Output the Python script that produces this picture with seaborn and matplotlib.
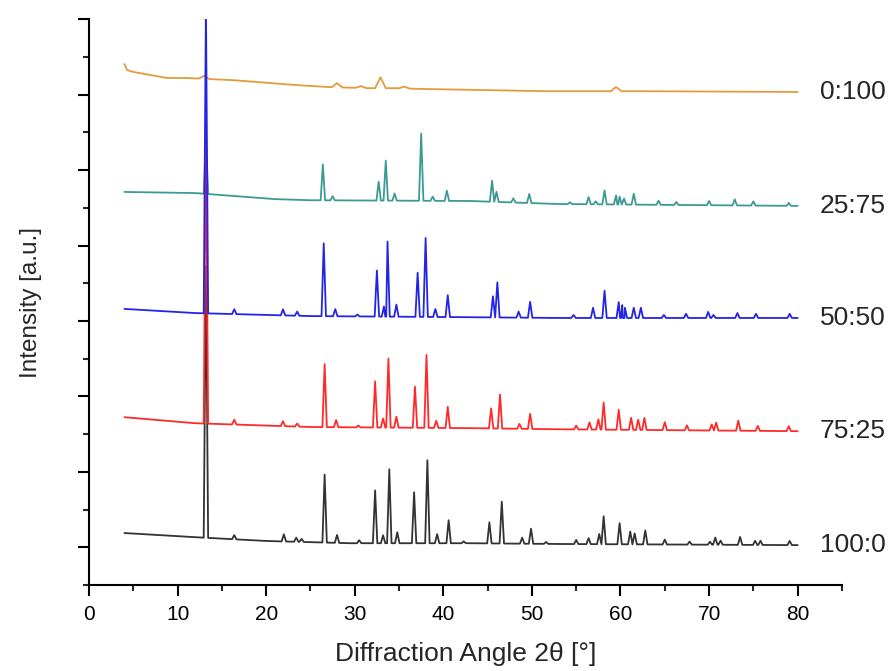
import numpy as np
import matplotlib
matplotlib.use("Agg")
import matplotlib.pyplot as plt
import seaborn as sns
from matplotlib.ticker import MultipleLocator, FixedLocator

# ---- data (y in stacked a.u., 1 unit = one y tick) ----
labels = ["0:100", "25:75", "50:50", "75:25", "100:0"]
colors = ["#E39B3C", "#3C9A94", "#2424E6", "#FF2A2A", "#333333"]

# 100:0
black_base_x = [4, 12, 20, 29.5, 43, 53, 80]
black_base_y = [1.38, 1.27, 1.17, 1.11, 1.11, 1.09, 1.06]
black_peak_x = [13.2, 16.4, 22.0, 23.4, 24.0, 26.6, 28.0, 30.5, 32.3, 33.2, 33.9, 34.8,
                36.7, 38.2, 39.3, 40.6, 42.3, 45.2, 46.6, 48.9, 49.9, 51.6, 55.0, 56.4,
                57.6, 58.1, 59.9, 61.1, 61.6, 62.8, 65.0, 67.8, 70.1, 70.7, 71.3, 73.5,
                75.2, 75.8, 79.1]
black_peak_h = [7.2, 0.11, 0.19, 0.11, 0.08, 1.80, 0.21, 0.08, 1.40, 0.21, 1.96, 0.29,
                1.35, 2.20, 0.24, 0.61, 0.05, 0.56, 1.11, 0.16, 0.40, 0.05, 0.11, 0.16,
                0.27, 0.74, 0.56, 0.34, 0.29, 0.37, 0.13, 0.08, 0.08, 0.19, 0.11, 0.21,
                0.11, 0.11, 0.11]

# 75:25
red_base_x = [4, 12, 25, 43, 53, 80]
red_base_y = [4.45, 4.29, 4.19, 4.16, 4.13, 4.08]
red_peak_x = [13.2, 16.4, 21.9, 23.5, 26.6, 27.9, 30.4, 32.3, 33.2, 33.8, 34.7, 36.8,
              38.1, 39.2, 40.5, 45.4, 46.4, 48.6, 49.8, 55.0, 56.5, 57.5, 58.1, 59.8,
              61.2, 62.0, 62.7, 65.0, 67.5, 70.3, 70.8, 73.3, 75.5, 79.0]
red_peak_h = [7.9, 0.13, 0.13, 0.08, 1.67, 0.19, 0.05, 1.22, 0.24, 1.83, 0.29, 1.09,
              1.93, 0.19, 0.56, 0.53, 0.90, 0.13, 0.40, 0.10, 0.19, 0.27, 0.72, 0.53,
              0.32, 0.27, 0.32, 0.21, 0.13, 0.16, 0.21, 0.27, 0.13, 0.13]

# 50:50
blue_base_x = [4, 12, 25, 43, 53, 80]
blue_base_y = [7.32, 7.21, 7.13, 7.10, 7.08, 7.08]
blue_peak_x = [13.2, 16.4, 21.9, 23.5, 26.5, 27.8, 30.3, 32.5, 33.3, 33.7, 34.7, 37.1,
               38.0, 39.1, 40.5, 45.6, 46.1, 48.5, 49.8, 54.7, 56.9, 58.2, 59.8, 60.2,
               60.5, 61.5, 62.3, 64.9, 67.4, 69.9, 70.5, 73.2, 75.3, 79.1]
blue_peak_h = [8.2, 0.13, 0.16, 0.11, 1.93, 0.19, 0.05, 1.22, 0.27, 1.99, 0.32, 1.17,
               2.09, 0.21, 0.58, 0.56, 0.93, 0.16, 0.42, 0.08, 0.27, 0.72, 0.42, 0.34,
               0.27, 0.27, 0.27, 0.08, 0.11, 0.16, 0.08, 0.13, 0.11, 0.11]

# 25:75
teal_base_x = [4, 12, 21, 25, 43, 53, 80]
teal_base_y = [10.42, 10.39, 10.23, 10.20, 10.18, 10.10, 10.05]
teal_peak_x = [13.2, 26.4, 27.5, 32.7, 33.5, 34.5, 37.5, 38.8, 40.4, 45.5, 46.0, 47.9,
               49.7, 54.3, 56.4, 57.2, 58.2, 59.5, 59.9, 60.4, 61.5, 64.3, 66.3, 70.0,
               72.9, 75.0, 79.0]
teal_peak_h = [1.5, 0.95, 0.11, 0.50, 1.06, 0.19, 1.78, 0.11, 0.27, 0.56, 0.27, 0.11,
               0.24, 0.05, 0.19, 0.08, 0.37, 0.24, 0.21, 0.16, 0.29, 0.11, 0.08, 0.11,
               0.16, 0.11, 0.08]

# 0:100 (amorphous)
orange_base_x = [4.0, 4.3, 5, 8.8, 11, 16.4, 23.5, 27, 31.5, 34.5, 37.5, 51.6, 57, 62, 80]
orange_base_y = [13.81, 13.65, 13.60, 13.44, 13.44, 13.38, 13.25, 13.20, 13.17, 13.17,
                 13.15, 13.09, 13.09, 13.09, 13.07]
orange_peak_x = [13.0, 28.0, 30.7, 32.9, 35.6, 59.5]
orange_peak_h = [0.08, 0.11, 0.05, 0.29, 0.05, 0.11]


def build_trace(base_x, base_y, peak_x, peak_h, hw):
    """Baseline anchors plus a narrow spike per reflection."""
    xs = list(base_x)
    ys = list(base_y)
    for p, h in zip(peak_x, peak_h):
        b = np.interp([p - hw, p, p + hw], base_x, base_y)
        xs += [p - hw, p, p + hw]
        ys += [b[0], b[1] + h, b[2]]
    order = np.argsort(xs, kind="stable")
    return np.asarray(xs)[order], np.asarray(ys)[order]


traces = {
    "0:100": build_trace(orange_base_x, orange_base_y, orange_peak_x, orange_peak_h, 0.6),
    "25:75": build_trace(teal_base_x, teal_base_y, teal_peak_x, teal_peak_h, 0.25),
    "100:0": build_trace(black_base_x, black_base_y, black_peak_x, black_peak_h, 0.25),
    "75:25": build_trace(red_base_x, red_base_y, red_peak_x, red_peak_h, 0.25),
    "50:50": build_trace(blue_base_x, blue_base_y, blue_peak_x, blue_peak_h, 0.25),
}
color_of = dict(zip(labels, colors))

sns.set_style("ticks")
plt.rcParams["font.family"] = ["Liberation Sans", "DejaVu Sans"]

fig = plt.figure(figsize=(8.9, 6.71), dpi=100)
ax = fig.add_axes([0.1, 0.128, 0.846, 0.8435])

for name, (xs, ys) in traces.items():
    sns.lineplot(x=xs, y=ys, color=color_of[name], linewidth=1.3,
                 estimator=None, sort=False, ax=ax)

for name in labels:
    xs, ys = traces[name]
    ax.text(89.9, ys[-1], name, ha="right", va="center", fontsize=19, clip_on=False)

ax.set_xlim(0, 85)
ax.set_ylim(0, 15)
ax.xaxis.set_major_locator(MultipleLocator(10))
ax.xaxis.set_minor_locator(MultipleLocator(5))
ax.yaxis.set_major_locator(FixedLocator(range(1, 16, 2)))
ax.yaxis.set_minor_locator(FixedLocator(range(0, 16, 2)))
ax.set_yticklabels([])
ax.tick_params(which="major", direction="out", length=8, width=1.5, pad=6,
               labelsize=15, colors="black")
ax.tick_params(which="minor", direction="out", length=4, width=1.5)

for side in ["top", "right"]:
    ax.spines[side].set_visible(False)
for side in ["left", "bottom"]:
    ax.spines[side].set_linewidth(1.5)
    ax.spines[side].set_color("black")

ax.set_xlabel("Diffraction Angle 2θ [°]", fontsize=19, labelpad=13)
ax.set_ylabel("Intensity [a.u.]", fontsize=17.5, labelpad=20)

fig.savefig("out.png", dpi=100)
plt.close(fig)
